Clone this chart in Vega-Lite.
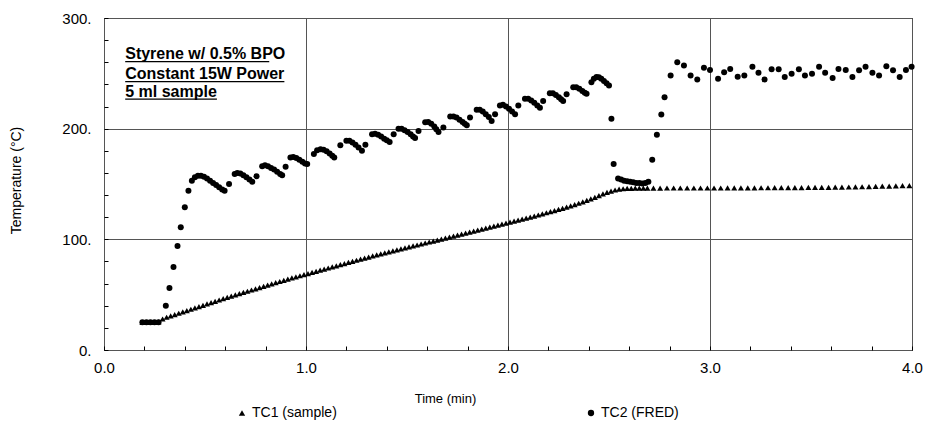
{
  "$schema": "https://vega.github.io/schema/vega-lite/v6.json",
  "width": 808,
  "height": 332,
  "autosize": {"type": "none"},
  "padding": {"left": 104, "top": 18, "right": 16, "bottom": 77},
  "background": "white",
  "config": {
    "font": "Liberation Sans",
    "view": {"stroke": "black", "strokeWidth": 1},
    "axis": {"labelFont": "Liberation Sans", "titleFont": "Liberation Sans", "labelColor": "black", "titleColor": "black", "titleFontWeight": "normal", "domain": false, "tickColor": "black", "gridColor": "#555", "gridWidth": 1, "labelFlush": false, "labelOverlap": false}
  },
  "datasets": {
    "tc1": [
      {"t":0.19,"v":25},{"t":0.21,"v":25},{"t":0.23,"v":25},{"t":0.25,"v":25},{"t":0.27,"v":25.5},
      {"t":0.29,"v":28},{"t":0.31,"v":29.6},{"t":0.33,"v":30.8},{"t":0.35,"v":32},{"t":0.37,"v":33.2},{"t":0.39,"v":34.4},
      {"t":0.41,"v":35.6},{"t":0.43,"v":36.8},{"t":0.45,"v":38},{"t":0.47,"v":39.2},{"t":0.49,"v":40.4},{"t":0.51,"v":41.6},
      {"t":0.53,"v":42.8},{"t":0.55,"v":44},{"t":0.57,"v":45.2},{"t":0.59,"v":46.4},{"t":0.61,"v":47.6},{"t":0.63,"v":48.7},
      {"t":0.65,"v":49.8},{"t":0.67,"v":50.9},{"t":0.69,"v":52},{"t":0.71,"v":53.1},{"t":0.73,"v":54.2},{"t":0.75,"v":55.3},
      {"t":0.77,"v":56.4},{"t":0.79,"v":57.5},{"t":0.81,"v":58.6},{"t":0.83,"v":59.7},{"t":0.85,"v":60.8},{"t":0.87,"v":61.9},
      {"t":0.89,"v":63},{"t":0.91,"v":64.1},{"t":0.93,"v":65.1},{"t":0.95,"v":66.1},{"t":0.97,"v":67.1},{"t":0.99,"v":68.1},
      {"t":1.01,"v":69.1},{"t":1.03,"v":70.1},{"t":1.05,"v":71.1},{"t":1.07,"v":72.1},{"t":1.09,"v":73.1},{"t":1.11,"v":74.1},
      {"t":1.13,"v":75.1},{"t":1.15,"v":76.1},{"t":1.17,"v":77.1},{"t":1.19,"v":78.1},{"t":1.21,"v":79.1},{"t":1.23,"v":80.1},
      {"t":1.25,"v":81.1},{"t":1.27,"v":82.1},{"t":1.29,"v":83.1},{"t":1.31,"v":84},{"t":1.33,"v":85},{"t":1.35,"v":86},
      {"t":1.37,"v":86.9},{"t":1.39,"v":87.8},{"t":1.41,"v":88.7},{"t":1.43,"v":89.6},{"t":1.45,"v":90.5},{"t":1.47,"v":91.4},
      {"t":1.49,"v":92.3},{"t":1.51,"v":93.2},{"t":1.53,"v":94.1},{"t":1.55,"v":94.9},{"t":1.57,"v":95.8},{"t":1.59,"v":96.7},
      {"t":1.61,"v":97.6},{"t":1.63,"v":98.4},{"t":1.65,"v":99.3},{"t":1.67,"v":100.2},{"t":1.69,"v":101.1},{"t":1.71,"v":102},
      {"t":1.73,"v":102.9},{"t":1.75,"v":103.8},{"t":1.77,"v":104.7},{"t":1.79,"v":105.6},{"t":1.81,"v":106.5},{"t":1.83,"v":107.4},
      {"t":1.85,"v":108.3},{"t":1.87,"v":109.2},{"t":1.89,"v":110.1},{"t":1.91,"v":111},{"t":1.93,"v":111.9},{"t":1.95,"v":112.8},
      {"t":1.97,"v":113.7},{"t":1.99,"v":114.6},{"t":2.01,"v":115.5},{"t":2.03,"v":116.4},{"t":2.05,"v":117.3},{"t":2.07,"v":118.2},
      {"t":2.09,"v":119.2},{"t":2.11,"v":120.1},{"t":2.13,"v":121},{"t":2.15,"v":122},{"t":2.17,"v":123},{"t":2.19,"v":124},
      {"t":2.21,"v":125},{"t":2.23,"v":126},{"t":2.25,"v":127},{"t":2.27,"v":128},{"t":2.29,"v":129.1},{"t":2.31,"v":130.2},
      {"t":2.33,"v":131.4},{"t":2.35,"v":132.6},{"t":2.37,"v":133.9},{"t":2.39,"v":135.2},{"t":2.41,"v":136.6},{"t":2.43,"v":138},
      {"t":2.45,"v":139.5},{"t":2.47,"v":141},{"t":2.49,"v":142.4},{"t":2.51,"v":143.6},{"t":2.53,"v":144.6},{"t":2.55,"v":145.3},
      {"t":2.57,"v":145.7},{"t":2.59,"v":146},{"t":2.61,"v":146.1},{"t":2.63,"v":146.2},{"t":2.65,"v":146.2},{"t":2.67,"v":146.3},
      {"t":2.69,"v":146.3},{"t":2.72,"v":146.3},{"t":2.753,"v":146.3},{"t":2.787,"v":146.4},{"t":2.82,"v":146.4},{"t":2.853,"v":146.4},
      {"t":2.887,"v":146.4},{"t":2.92,"v":146.4},{"t":2.953,"v":146.4},{"t":2.987,"v":146.4},{"t":3.02,"v":146.4},{"t":3.053,"v":146.4},
      {"t":3.087,"v":146.5},{"t":3.12,"v":146.5},{"t":3.153,"v":146.5},{"t":3.187,"v":146.5},{"t":3.22,"v":146.5},{"t":3.253,"v":146.6},
      {"t":3.287,"v":146.6},{"t":3.32,"v":146.7},{"t":3.353,"v":146.7},{"t":3.387,"v":146.8},{"t":3.42,"v":146.8},{"t":3.453,"v":146.8},
      {"t":3.487,"v":146.9},{"t":3.52,"v":146.9},{"t":3.553,"v":147},{"t":3.587,"v":147},{"t":3.62,"v":147.1},{"t":3.653,"v":147.2},
      {"t":3.687,"v":147.3},{"t":3.72,"v":147.4},{"t":3.753,"v":147.5},{"t":3.787,"v":147.6},{"t":3.82,"v":147.8},{"t":3.853,"v":148},
      {"t":3.887,"v":148.1},{"t":3.92,"v":148.3},{"t":3.953,"v":148.5},{"t":3.987,"v":148.6}
    ],
    "tc2": [
      {"t":0.19,"v":25},{"t":0.21,"v":25},{"t":0.23,"v":25},{"t":0.25,"v":25},{"t":0.27,"v":25},
      {"t":0.306,"v":40},{"t":0.324,"v":56},{"t":0.344,"v":75},{"t":0.364,"v":94},{"t":0.38,"v":111},{"t":0.4,"v":129},
      {"t":0.418,"v":144},{"t":0.435,"v":153},{"t":0.45,"v":156},{"t":0.465,"v":157.5},{"t":0.48,"v":157.5},{"t":0.495,"v":156.5},
      {"t":0.51,"v":155},{"t":0.525,"v":153},{"t":0.54,"v":151},{"t":0.555,"v":149},{"t":0.57,"v":147},{"t":0.585,"v":145},{"t":0.597,"v":144},
      {"t":0.619,"v":150},{"t":0.647,"v":159},{"t":0.66,"v":160},{"t":0.675,"v":159.5},{"t":0.69,"v":158},{"t":0.705,"v":156},{"t":0.72,"v":154},{"t":0.734,"v":152},
      {"t":0.755,"v":157},{"t":0.783,"v":166},{"t":0.797,"v":167},{"t":0.812,"v":166},{"t":0.827,"v":164.5},{"t":0.842,"v":163},{"t":0.857,"v":161},{"t":0.872,"v":159},{"t":0.882,"v":158},
      {"t":0.899,"v":165.5},{"t":0.923,"v":174},{"t":0.937,"v":174.5},{"t":0.952,"v":173.5},{"t":0.967,"v":172},{"t":0.982,"v":170},{"t":0.995,"v":168.5},{"t":1.006,"v":168},
      {"t":1.039,"v":177},{"t":1.055,"v":180.5},{"t":1.072,"v":181.5},{"t":1.087,"v":181},{"t":1.102,"v":179.5},{"t":1.117,"v":177.5},{"t":1.13,"v":175.5},{"t":1.14,"v":174},
      {"t":1.17,"v":185},{"t":1.2,"v":189},{"t":1.215,"v":189},{"t":1.23,"v":187.5},{"t":1.245,"v":185.5},{"t":1.26,"v":183},{"t":1.277,"v":180},
      {"t":1.294,"v":185.5},{"t":1.327,"v":195},{"t":1.342,"v":195.5},{"t":1.357,"v":194.5},{"t":1.372,"v":193},{"t":1.387,"v":191},{"t":1.4,"v":189.5},{"t":1.414,"v":188},
      {"t":1.434,"v":195},{"t":1.458,"v":200},{"t":1.473,"v":200},{"t":1.488,"v":198.5},{"t":1.503,"v":197},{"t":1.518,"v":195},{"t":1.53,"v":193},{"t":1.54,"v":191.5},
      {"t":1.557,"v":198},{"t":1.59,"v":205.7},{"t":1.605,"v":206},{"t":1.62,"v":204.5},{"t":1.635,"v":202},{"t":1.645,"v":199.5},{"t":1.656,"v":197},
      {"t":1.68,"v":201},{"t":1.714,"v":211},{"t":1.73,"v":211},{"t":1.745,"v":210},{"t":1.76,"v":208},{"t":1.775,"v":206},{"t":1.786,"v":204.5},{"t":1.796,"v":203},
      {"t":1.812,"v":210},{"t":1.845,"v":217},{"t":1.86,"v":217},{"t":1.875,"v":215.5},{"t":1.89,"v":213},{"t":1.905,"v":210.5},{"t":1.919,"v":207},
      {"t":1.936,"v":213},{"t":1.96,"v":221},{"t":1.975,"v":221.5},{"t":1.99,"v":220},{"t":2.005,"v":218},{"t":2.02,"v":215.5},{"t":2.035,"v":213},
      {"t":2.051,"v":221},{"t":2.084,"v":227},{"t":2.1,"v":227},{"t":2.115,"v":225.5},{"t":2.13,"v":223.5},{"t":2.145,"v":221},{"t":2.158,"v":219},
      {"t":2.174,"v":225},{"t":2.207,"v":232},{"t":2.222,"v":232},{"t":2.237,"v":230.5},{"t":2.252,"v":228.5},{"t":2.263,"v":226.5},{"t":2.273,"v":225},
      {"t":2.29,"v":231},{"t":2.323,"v":237.5},{"t":2.338,"v":237.5},{"t":2.353,"v":236},{"t":2.368,"v":234},{"t":2.38,"v":232.5},{"t":2.389,"v":231.5},
      {"t":2.413,"v":242},{"t":2.425,"v":245},{"t":2.438,"v":246.6},{"t":2.45,"v":246.5},{"t":2.462,"v":245},{"t":2.475,"v":243},{"t":2.488,"v":241},{"t":2.5,"v":239},
      {"t":2.512,"v":209},{"t":2.523,"v":168},{"t":2.545,"v":155},{"t":2.56,"v":154},{"t":2.575,"v":153},{"t":2.59,"v":152.5},{"t":2.605,"v":152},
      {"t":2.62,"v":151.5},{"t":2.635,"v":151},{"t":2.65,"v":151},{"t":2.665,"v":150.5},{"t":2.68,"v":151},{"t":2.695,"v":152},
      {"t":2.714,"v":172},{"t":2.737,"v":194.5},{"t":2.759,"v":212.7},{"t":2.775,"v":228.5},{"t":2.805,"v":248},{"t":2.838,"v":260},
      {"t":2.871,"v":257},{"t":2.904,"v":248},{"t":2.937,"v":244.5},{"t":2.97,"v":255},{"t":3.0,"v":253},{"t":3.04,"v":245},
      {"t":3.07,"v":251},{"t":3.1,"v":254},{"t":3.137,"v":247},{"t":3.17,"v":248},{"t":3.21,"v":256},{"t":3.24,"v":250.6},
      {"t":3.27,"v":244.5},{"t":3.305,"v":253.6},{"t":3.34,"v":253.6},{"t":3.37,"v":246.6},{"t":3.404,"v":249.7},{"t":3.44,"v":253.6},
      {"t":3.47,"v":248},{"t":3.505,"v":249.7},{"t":3.54,"v":256},{"t":3.57,"v":250.6},{"t":3.607,"v":245.7},{"t":3.636,"v":254},
      {"t":3.672,"v":253},{"t":3.705,"v":246.6},{"t":3.738,"v":252.7},{"t":3.77,"v":256},{"t":3.804,"v":250.6},{"t":3.837,"v":248},
      {"t":3.873,"v":256.4},{"t":3.906,"v":252.7},{"t":3.939,"v":246.6},{"t":3.97,"v":253},{"t":3.998,"v":256}
    ],
    "notes": [
      {"t":0.105,"v":263.3,"label":"Styrene w/ 0.5% BPO"},
      {"t":0.105,"v":245.3,"label":"Constant 15W Power"},
      {"t":0.105,"v":229,"label":"5 ml sample"}
    ],
    "underlines": [
      {"t":0.105,"t2":0.818,"v":260.6},
      {"t":0.105,"t2":0.893,"v":242.5},
      {"t":0.105,"t2":0.559,"v":226.7}
    ]
  },
  "encoding": {
    "x": {
      "field": "t", "type": "quantitative",
      "scale": {"domain": [0, 4], "nice": false, "zero": false},
      "axis": {
        "title": "Time (min)",
        "values": [0,0.2,0.4,0.6,0.8,1,1.2,1.4,1.6,1.8,2,2.2,2.4,2.6,2.8,3,3.2,3.4,3.6,3.8,4],
        "labelExpr": "datum.value % 1 == 0 ? format(datum.value, '.1f') : ''",
        "labelFontSize": 15,
        "labelPadding": 14,
        "tickSize": -4,
        "grid": true,
        "gridOpacity": {"condition": {"test": "datum.value % 1 == 0", "value": 1}, "value": 0},
        "titleFontSize": 13,
        "titleX": 341,
        "titleY": 48,
        "titleAlign": "center",
        "titleBaseline": "middle"
      }
    },
    "y": {
      "field": "v", "type": "quantitative",
      "scale": {"domain": [0, 300], "nice": false, "zero": false},
      "axis": {
        "title": "Temperature (°C)",
        "values": [0,20,40,60,80,100,120,140,160,180,200,220,240,260,280,300],
        "labelExpr": "datum.value % 100 == 0 ? datum.value + '.' : ''",
        "labelFontSize": 15,
        "labelPadding": 17,
        "tickSize": -4,
        "grid": true,
        "gridOpacity": {"condition": {"test": "datum.value % 100 == 0", "value": 1}, "value": 0},
        "titleFontSize": 14,
        "titleX": -88,
        "titleY": 162,
        "titleAngle": -90,
        "titleAlign": "center",
        "titleBaseline": "middle"
      }
    }
  },
  "layer": [
    {
      "data": {"name": "tc1"},
      "mark": {"type": "point", "filled": true, "color": "black", "opacity": 1, "size": 36},
      "encoding": {
        "shape": {
          "datum": "TC1 (sample)",
          "scale": {"domain": ["TC1 (sample)", "TC2 (FRED)"], "range": ["triangle-up", "circle"]},
          "legend": {
            "title": null,
            "orient": "none",
            "legendX": 131,
            "legendY": 388,
            "direction": "horizontal",
            "columns": 2,
            "columnPadding": 247,
            "labelFont": "Liberation Sans",
            "labelFontSize": 14,
            "labelColor": "black",
            "labelOffset": 3,
            "symbolSize": 40,
            "symbolFillColor": "black",
            "symbolStrokeWidth": 0,
            "symbolOpacity": 1
          }
        }
      }
    },
    {
      "data": {"name": "tc2"},
      "mark": {"type": "point", "filled": true, "color": "black", "opacity": 1, "size": 36},
      "encoding": {
        "shape": {"datum": "TC2 (FRED)"}
      }
    },
    {
      "data": {"name": "notes"},
      "mark": {"type": "text", "align": "left", "baseline": "alphabetic", "fontSize": 16, "fontWeight": "bold", "font": "Liberation Sans", "color": "black"},
      "encoding": {"text": {"field": "label"}}
    },
    {
      "data": {"name": "underlines"},
      "mark": {"type": "rule", "color": "black", "strokeWidth": 1.4},
      "encoding": {"x2": {"field": "t2"}}
    }
  ]
}
